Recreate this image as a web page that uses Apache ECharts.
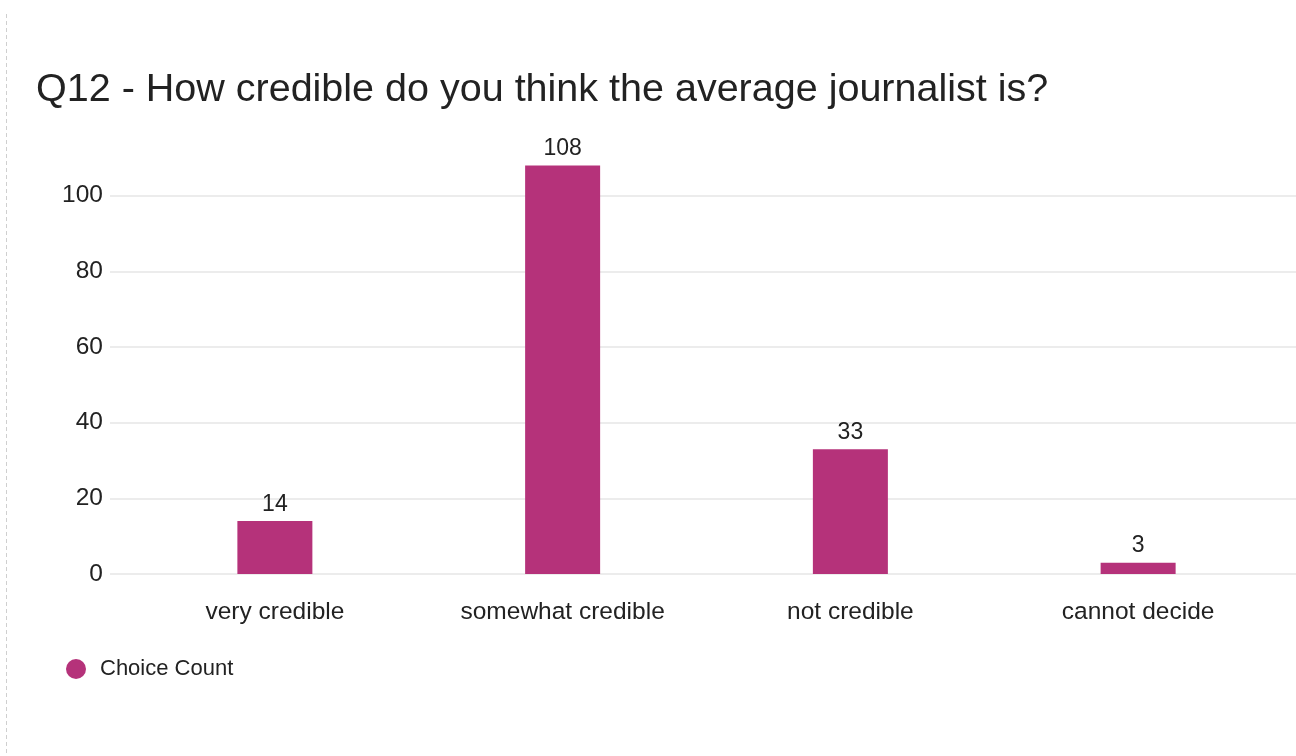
<!DOCTYPE html>
<html>
<head>
<meta charset="utf-8">
<script src="https://cdn.jsdelivr.net/npm/echarts@6/dist/echarts.min.js"></script>
<style>
  html, body { margin: 0; padding: 0; background: #ffffff; }
  #chart { width: 1296px; height: 756px; }
</style>
</head>
<body>
<div id="chart"></div>
<script>
// Survey responses for Q12
const titleText = 'Q12 - How credible do you think the average journalist is?';
const categories = ['very credible', 'somewhat credible', 'not credible', 'cannot decide'];
const choiceCount = [14, 108, 33, 3];
const seriesName = 'Choice Count';
const yMin = 0;
const yMax = 120;
const yStep = 20;

const barColor = '#b5327a';
const textColor = '#222222';
const font = 'Liberation Sans, Arial, Helvetica, sans-serif';

const chart = echarts.init(document.getElementById('chart'), null, { renderer: 'canvas' });

const plotTop = 120;
const plotBottom = 182;

chart.setOption({
  backgroundColor: '#ffffff',
  animation: false,
  title: {
    text: titleText,
    left: 31,
    top: 65,
    textStyle: { fontFamily: font, fontSize: 39.5, fontWeight: 'normal', color: textColor }
  },
  legend: {
    data: [seriesName],
    left: 61,
    top: 653,
    icon: 'circle',
    itemWidth: 20,
    itemHeight: 20,
    itemGap: 10,
    textStyle: { fontFamily: font, fontSize: 22, color: textColor, padding: [0, 0, 0, 9] }
  },
  graphic: [{
    type: 'line',
    shape: { x1: 6.5, y1: 14, x2: 6.5, y2: 756 },
    style: { stroke: '#cfcfcf', lineWidth: 1, lineDash: [4, 3] },
    silent: true
  }],
  grid: [
    // wide grid carrying the value axis labels and gridlines
    { left: 110, right: 0, top: plotTop, bottom: plotBottom },
    // inner grid carrying the category bands and bars
    { left: 131, right: 14, top: plotTop, bottom: plotBottom }
  ],
  xAxis: [
    { type: 'value', gridIndex: 0, min: 0, max: 1, show: false },
    {
      type: 'category',
      gridIndex: 1,
      data: categories,
      axisLine: { show: false },
      axisTick: { show: false },
      axisLabel: { fontFamily: font, fontSize: 24.5, color: textColor, margin: 26 }
    }
  ],
  yAxis: [
    {
      type: 'value',
      gridIndex: 0,
      min: yMin,
      max: yMax,
      interval: yStep,
      axisLine: { show: false },
      axisTick: { show: false },
      axisLabel: { fontFamily: font, fontSize: 24.5, color: textColor, margin: 7, showMaxLabel: false },
      splitLine: { show: true, showMaxLine: false, lineStyle: { color: '#e6e6e6', width: 1.5 } }
    },
    {
      type: 'value',
      gridIndex: 1,
      min: yMin,
      max: yMax,
      interval: yStep,
      show: false,
      splitLine: { show: false }
    }
  ],
  series: [{
    name: seriesName,
    type: 'bar',
    xAxisIndex: 1,
    yAxisIndex: 1,
    data: choiceCount,
    barWidth: 75,
    itemStyle: { color: barColor },
    label: {
      show: true,
      position: 'top',
      distance: 5,
      fontFamily: font,
      fontSize: 23,
      color: textColor
    }
  }]
});
</script>
</body>
</html>
